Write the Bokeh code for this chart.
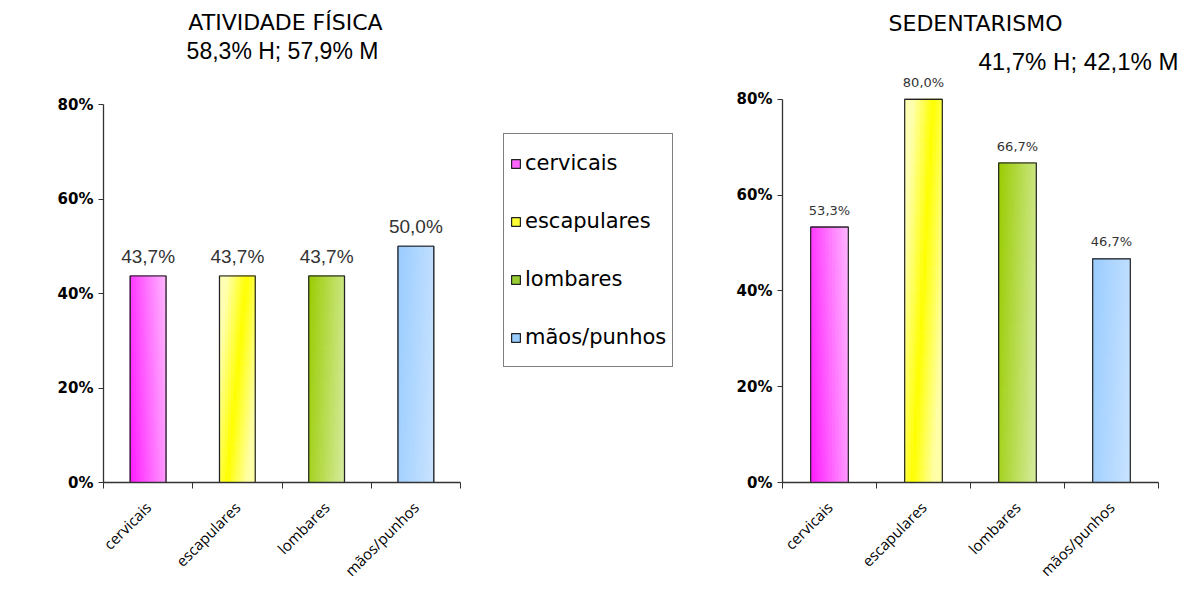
import numpy as np
from bokeh.plotting import figure
from bokeh.layouts import row
from bokeh.models import (Range1d, FixedTicker, PrintfTickFormatter, Label, Legend,
                          LegendItem, ColumnDataSource)
from bokeh.embed import file_html
from bokeh.resources import INLINE
from bokeh.core.properties import value

# ---------------- data ----------------
categories = ["cervicais", "escapulares", "lombares", "mãos/punhos"]
atividade_values = [43.7, 43.7, 43.7, 50.0]
sedentarismo_values = [53.3, 80.0, 66.7, 46.7]
y_ticks = [0, 20, 40, 60, 80]
title_left = "ATIVIDADE FÍSICA"
subtitle_left = "58,3% H; 57,9% M"
title_right = "SEDENTARISMO"
subtitle_right = "41,7% H; 42,1% M"

# ---------------- styles ----------------
legend_colors = ["#FF66FF", "#FFFF33", "#99CC33", "#99CCFF"]
grad_stops = [
    ["#FF1AFF", "#FFB6FF"],
    ["#FFFFB4", "#FFFF00", "#FFFFA8"],
    ["#99CC00", "#D6EB9E"],
    ["#99CCFF", "#C9E3FF"],
]
# t = a*u + b*v + c  (u across bar 0..1, v up bar 0..1)
grad_dir = [
    (0.8, 0.2, 0.0),
    (0.9, -0.5, 0.3),
    (0.8, -0.2, 0.2),
    (0.8, -0.2, 0.2),
]
BAR_W = 0.4


def hex2rgb(h):
    h = h.lstrip("#")
    return tuple(int(h[i:i + 2], 16) for i in (0, 2, 4))


def interp(stops, t):
    t = min(max(t, 0.0), 1.0)
    n = len(stops) - 1
    pos = t * n
    k = min(int(pos), n - 1)
    f = pos - k
    a = hex2rgb(stops[k])
    b = hex2rgb(stops[k + 1])
    return "#%02x%02x%02x" % tuple(int(round(a[j] + (b[j] - a[j]) * f)) for j in range(3))


def fmt(v):
    return ("%.1f" % v).replace(".", ",") + "%"


def make_chart(vals, width, height, bl, br, bt, bb, x_end, y_end, lab_font, lab_size, lab_off):
    p = figure(width=width, height=height, x_range=Range1d(0, x_end), y_range=Range1d(0, y_end),
               output_backend="svg", toolbar_location=None,
               min_border_left=bl, min_border_right=br, min_border_top=bt, min_border_bottom=bb)
    p.xgrid.visible = False
    p.ygrid.visible = False
    p.outline_line_color = None
    p.background_fill_color = "white"
    p.border_fill_color = "white"

    xs = [i + 0.5 for i in range(len(categories))]
    src = ColumnDataSource(dict(x=xs, top=vals, color=legend_colors, cat=categories,
                                lab=[fmt(v) for v in vals]))
    base = p.vbar(x="x", top="top", width=BAR_W, fill_color="color", line_color="#222222",
                  line_width=1.2, source=src)

    # gradient cells
    nx, ny = 12, 30
    L, R, B, T, C = [], [], [], [], []
    for i, v in enumerate(vals):
        x0 = xs[i] - BAR_W / 2
        a, b, c = grad_dir[i]
        for ix in range(nx):
            for iy in range(ny):
                u = (ix + 0.5) / nx
                w = (iy + 0.5) / ny
                L.append(x0 + ix * BAR_W / nx)
                R.append(x0 + (ix + 1) * BAR_W / nx)
                B.append(v * iy / ny)
                T.append(v * (iy + 1) / ny)
                C.append(interp(grad_stops[i], a * u + b * w + c))
    p.quad(left=L, right=R, bottom=B, top=T, fill_color=C, line_color=C, line_width=1)

    p.vbar(x="x", top="top", width=BAR_W, fill_color=None, line_color="#222222",
           line_width=1.2, source=src)

    p.text(x="x", y="top", text="lab", source=src, text_align="center",
           text_baseline="alphabetic", y_offset=lab_off, text_color="#333333",
           text_font=value(lab_font), text_font_size=lab_size)

    # y axis
    ya = p.yaxis[0]
    ya.ticker = FixedTicker(ticks=y_ticks, minor_ticks=[])
    ya.bounds = (0, 80)
    ya.formatter = PrintfTickFormatter(format="%d%%")
    ya.major_tick_in = 0
    ya.major_tick_out = 5
    ya.minor_tick_in = 0
    ya.minor_tick_out = 0
    ya.axis_line_color = "#333333"
    ya.axis_line_width = 1.3
    ya.major_tick_line_color = "#333333"
    ya.major_label_text_font = "DejaVu Sans"
    ya.major_label_text_font_style = "bold"
    ya.major_label_text_font_size = "15px"
    ya.major_label_text_color = "black"
    ya.major_label_standoff = 5

    # x axis
    xa = p.xaxis[0]
    xa.ticker = FixedTicker(ticks=xs, minor_ticks=[0, 1, 2, 3, 4])
    xa.bounds = (0, 4)
    xa.major_label_overrides = {x: c for x, c in zip(xs, categories)}
    xa.major_tick_in = 0
    xa.major_tick_out = 0
    xa.minor_tick_in = 0
    xa.minor_tick_out = 6
    xa.minor_tick_line_color = "#333333"
    xa.axis_line_color = "#333333"
    xa.axis_line_width = 1.3
    xa.major_label_orientation = np.pi / 4
    xa.major_label_text_font = "Open Sans"
    xa.major_label_text_font_size = "15px"
    xa.major_label_text_color = "black"
    xa.major_label_standoff = 16
    return p, base


# left: frame x 103..688 (89.25 px per category), y 9..482 (4.725 px per %)
p1, base1 = make_chart(atividade_values, 690, 590, 103, 2, 9, 108, 585 / 89.25, 473 / 4.725,
                       "Liberation Sans", "19px", -20)
# right: frame x 782..1182 (94 px per category), y 9..483 (4.8 px per %)
p2, base2 = make_chart(sedentarismo_values, 496, 590, 92, 4, 9, 107, 400 / 94.0, 474 / 4.8,
                       "DejaVu Sans", "13px", -17)

# titles (screen units relative to frame bottom-left)
p1.add_layout(Label(x=182, y=460, x_units="screen", y_units="screen", text=title_left,
                    text_align="center", text_baseline="middle",
                    text_font="DejaVu Sans", text_font_size="22px", text_color="black"))
p1.add_layout(Label(x=179, y=432, x_units="screen", y_units="screen", text=subtitle_left,
                    text_align="center", text_baseline="middle",
                    text_font="Liberation Sans", text_font_size="23px", text_color="black"))
p2.add_layout(Label(x=193, y=459, x_units="screen", y_units="screen", text=title_right,
                    text_align="center", text_baseline="middle",
                    text_font="DejaVu Sans", text_font_size="22px", text_color="black"))
p2.add_layout(Label(x=396, y=421, x_units="screen", y_units="screen", text=subtitle_right,
                    text_align="right", text_baseline="middle",
                    text_font="Liberation Sans", text_font_size="24px", text_color="black"))

legend = Legend(items=[LegendItem(label=c, renderers=[base1], index=i)
                       for i, c in enumerate(categories)],
                location=(400, 115), orientation="vertical",
                border_line_color="black", border_line_width=1,
                background_fill_color="white", background_fill_alpha=1,
                label_text_font="DejaVu Sans", label_text_font_size="21px",
                label_text_color="black", label_height=46,
                glyph_width=11, glyph_height=11, label_standoff=4,
                spacing=12, padding=6, margin=0)
p1.add_layout(legend)

layout = row(p1, p2)
open("out.html", "w").write(file_html(layout, INLINE))
